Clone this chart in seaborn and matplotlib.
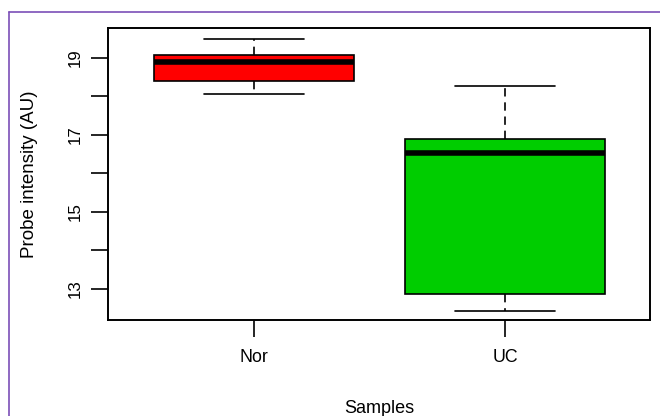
import matplotlib
matplotlib.use("Agg")
import matplotlib.pyplot as plt
import seaborn as sns
import pandas as pd
from matplotlib.lines import Line2D

# Data: five-number summaries (min, Q1, median, Q3, max)
categories = ["Nor", "UC"]
nor_values = [18.06, 18.41, 18.89, 19.08, 19.49]
uc_values = [12.43, 12.86, 16.52, 16.89, 18.27]
box_colors = ["#FF0000", "#00CD00"]
y_ticks = [13, 14, 15, 16, 17, 18, 19]
y_tick_labels = ["13", "", "15", "", "17", "", "19"]

df = pd.DataFrame({
    "Samples": [categories[0]] * len(nor_values) + [categories[1]] * len(uc_values),
    "value": nor_values + uc_values,
})

sns.set_style("white")
plt.rcParams["font.family"] = ["Liberation Sans", "DejaVu Sans"]
plt.rcParams["text.color"] = "black"
plt.rcParams["axes.labelcolor"] = "black"
plt.rcParams["xtick.color"] = "black"
plt.rcParams["ytick.color"] = "black"

fig = plt.figure(figsize=(6.6, 4.16), dpi=100)
ax = fig.add_axes([108 / 660, 96 / 416, 542 / 660, 292 / 416])

sns.boxplot(
    data=df, x="Samples", y="value", hue="Samples", order=categories,
    palette=box_colors, legend=False, whis=(0, 100), width=0.8,
    showfliers=False, saturation=1, ax=ax,
    boxprops=dict(edgecolor="black", linewidth=1.2),
    medianprops=dict(color="black", linewidth=4),
    whiskerprops=dict(color="black", linewidth=1.2, linestyle=(0, (5, 3.5))),
    capprops=dict(color="black", linewidth=1.2),
)

ax.set_xlim(-0.582, 1.578)
ax.set_ylim(12.19, 19.78)
ax.set_yticks(y_ticks)
ax.set_yticklabels(y_tick_labels, rotation=90, va="center", fontsize=12.2)
for lab in ax.get_xticklabels():
    lab.set_fontsize(12.8)
ax.tick_params(axis="both", direction="out", length=12, width=1.2, color="black",
               labelcolor="black", left=True, bottom=True)
ax.tick_params(axis="y", pad=6)
ax.tick_params(axis="x", pad=9)

for s in ax.spines.values():
    s.set_visible(True)
    s.set_color("black")
    s.set_linewidth(1.4)

ax.set_xlabel("Samples", fontsize=13, color="black")
ax.set_ylabel("Probe intensity (AU)", fontsize=13.5, color="black")
ax.xaxis.set_label_coords(0.5, -0.274)
ax.yaxis.set_label_coords(-0.13, 0.5)

# purple outer border (top and left edges visible)
purple = "#7B4FB8"
fig.add_artist(Line2D([9 / 660, 1.0], [1 - 12 / 416, 1 - 12 / 416],
                      transform=fig.transFigure, color=purple, linewidth=1.2))
fig.add_artist(Line2D([9 / 660, 9 / 660], [0.0, 1 - 12 / 416],
                      transform=fig.transFigure, color=purple, linewidth=1.2))

fig.savefig("out.png", dpi=100)
